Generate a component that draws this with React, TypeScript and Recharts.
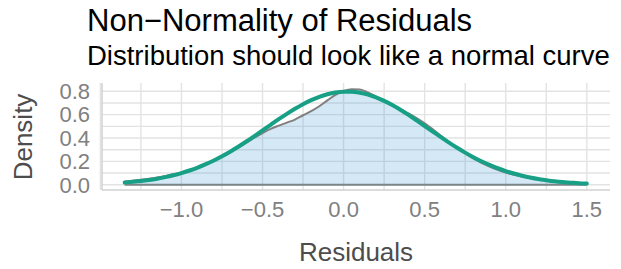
import React from 'react';
import {
  ComposedChart,
  Area,
  Line,
  XAxis,
  YAxis,
  CartesianGrid,
} from 'recharts';

// residual grid (x) and the two curves
const RESIDUALS = [
  -1.35, -1.3, -1.25, -1.2, -1.15, -1.1, -1.05, -1.0,
  -0.95, -0.9, -0.85, -0.8, -0.75, -0.7, -0.65, -0.6,
  -0.55, -0.5, -0.45, -0.4, -0.35, -0.3, -0.25, -0.2,
  -0.15, -0.1, -0.05, 0.0, 0.05, 0.1, 0.15, 0.2,
  0.25, 0.3, 0.35, 0.4, 0.45, 0.5, 0.55, 0.6,
  0.65, 0.7, 0.75, 0.8, 0.85, 0.9, 0.95, 1.0,
  1.05, 1.1, 1.15, 1.2, 1.25, 1.3, 1.35, 1.4,
  1.45, 1.5,
];

const DENSITY = [
  0.028, 0.034, 0.042, 0.051, 0.062, 0.075, 0.089, 0.106,
  0.126, 0.149, 0.176, 0.206, 0.24, 0.278, 0.318, 0.36,
  0.403, 0.443, 0.478, 0.506, 0.532, 0.558, 0.595, 0.63,
  0.672, 0.722, 0.77, 0.803, 0.818, 0.815, 0.79, 0.755,
  0.718, 0.682, 0.646, 0.61, 0.57, 0.525, 0.474, 0.42,
  0.366, 0.315, 0.268, 0.225, 0.188, 0.156, 0.128, 0.104,
  0.085, 0.07, 0.058, 0.048, 0.04, 0.03, 0.024, 0.019,
  0.014, 0.011,
];

const NORMAL = [
  0.019, 0.025, 0.032, 0.041, 0.052, 0.065, 0.081, 0.1,
  0.122, 0.147, 0.176, 0.208, 0.244, 0.283, 0.325, 0.37,
  0.417, 0.465, 0.513, 0.561, 0.607, 0.65, 0.69, 0.724,
  0.753, 0.775, 0.79, 0.797, 0.797, 0.788, 0.772, 0.748,
  0.718, 0.682, 0.642, 0.598, 0.551, 0.503, 0.455, 0.407,
  0.361, 0.317, 0.275, 0.236, 0.201, 0.17, 0.142, 0.117,
  0.096, 0.077, 0.062, 0.049, 0.039, 0.03, 0.023, 0.018,
  0.013, 0.01,
];

const X_TICKS = [-1.0, -0.5, 0.0, 0.5, 1.0, 1.5];
const Y_TICKS = [0.0, 0.2, 0.4, 0.6, 0.8];
const X_GRID = [-1.5, -1.25, -1.0, -0.75, -0.5, -0.25, 0, 0.25, 0.5, 0.75, 1.0, 1.25, 1.5];
const Y_GRID = [0, 0.1, 0.2, 0.3, 0.4, 0.5, 0.6, 0.7, 0.8];

const TITLE = 'Non\u2212Normality of Residuals';
const SUBTITLE = 'Distribution should look like a normal curve';

const data = RESIDUALS.map((x, i) => ({
  x,
  density: DENSITY[i],
  normal: NORMAL[i],
  zero: 0,
}));

const FONT = '"Liberation Sans", Arial, Helvetica, sans-serif';

const fmt = (v: number) => (v < 0 ? '\u2212' : '') + Math.abs(v).toFixed(1);

const App = () => {
  return (
    <div style={{ position: 'absolute', left: 0, top: 0, width: 621, height: 269, background: '#fff' }}>
      <ComposedChart
        width={621}
        height={269}
        data={data}
        margin={{ top: 83, right: 11, left: 12, bottom: 39 }}
      >
        <CartesianGrid
          stroke="#e3e3e3"
          strokeWidth={1.4}
          verticalValues={X_GRID}
          horizontalValues={Y_GRID}
        />
        <XAxis
          type="number"
          dataKey="x"
          domain={[-1.49, 1.643]}
          ticks={X_TICKS}
          tickFormatter={fmt}
          allowDataOverflow
          interval={0}
          height={40}
          tickLine={false}
          tickSize={0}
          tickMargin={11}
          axisLine={{ stroke: '#d0d0d0', strokeWidth: 1.5 }}
          tick={{ fill: '#808080', fontSize: 22, fontFamily: FONT }}
        />
        <YAxis
          type="number"
          domain={[-0.045, 0.871]}
          ticks={Y_TICKS}
          tickFormatter={(v: number) => v.toFixed(1)}
          allowDataOverflow
          interval={0}
          width={90}
          tickLine={false}
          tickSize={0}
          tickMargin={12}
          axisLine={{ stroke: '#d0d0d0', strokeWidth: 1.5 }}
          tick={{ fill: '#808080', fontSize: 22, fontFamily: FONT }}
        />
        <Area
          type="monotone"
          dataKey="density"
          stroke="#808080"
          strokeWidth={2}
          fill="rgb(45,140,210)"
          fillOpacity={0.2}
          isAnimationActive={false}
          dot={false}
          activeDot={false}
        />
        <Line
          type="linear"
          dataKey="zero"
          stroke="#7a8586"
          strokeWidth={2}
          dot={false}
          activeDot={false}
          isAnimationActive={false}
        />
        <Line
          type="monotone"
          dataKey="normal"
          stroke="#17a085"
          strokeWidth={4}
          strokeLinecap="round"
          dot={false}
          activeDot={false}
          isAnimationActive={false}
        />
      </ComposedChart>
      <svg
        width={621}
        height={269}
        style={{ position: 'absolute', left: 0, top: 0, pointerEvents: 'none' }}
      >
        <text x={87} y={31} fontSize={31} fontFamily={FONT} fill="#000">
          {TITLE}
        </text>
        <text x={87} y={65} fontSize={27.5} fontFamily={FONT} fill="#000">
          {SUBTITLE}
        </text>
        <text x={356} y={261} fontSize={26} fontFamily={FONT} fill="#4d4d4d" textAnchor="middle">
          Residuals
        </text>
        <text
          x={0}
          y={0}
          fontSize={26}
          fontFamily={FONT}
          fill="#4d4d4d"
          textAnchor="middle"
          transform="translate(32 137) rotate(-90)"
        >
          Density
        </text>
      </svg>
    </div>
  );
};

export default App;
